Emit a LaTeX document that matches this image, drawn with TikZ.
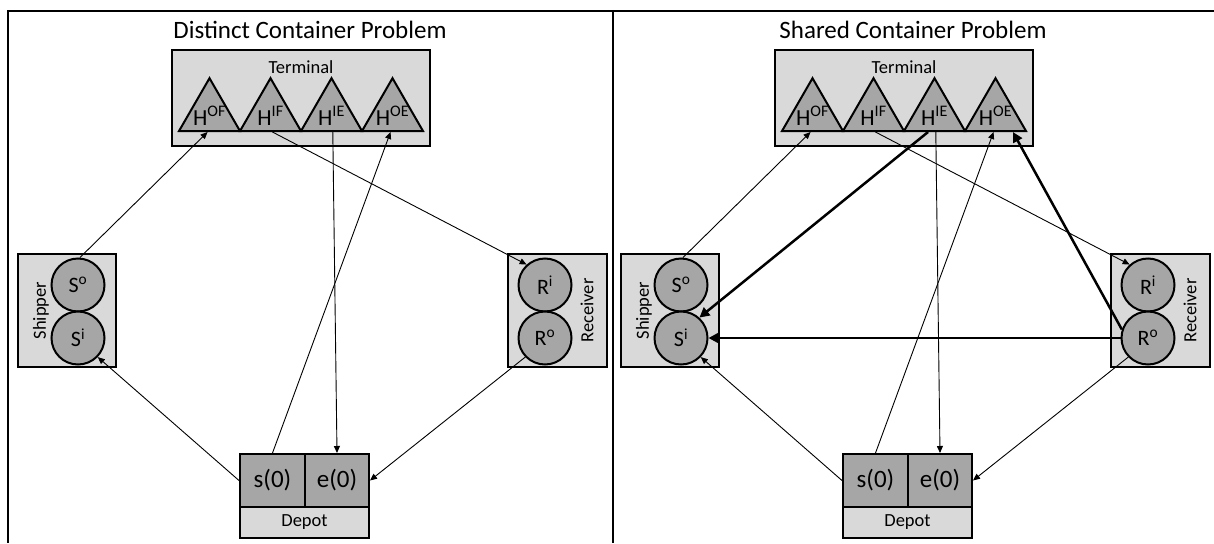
\documentclass[tikz,border=0pt]{standalone}
\usepackage{fontspec}
\setmainfont{Carlito}
\usetikzlibrary{arrows.meta,shapes.geometric,calc}
\definecolor{cplight}{HTML}{D9D9D9}
\definecolor{cpdark}{HTML}{A6A6A6}

\tikzset{
  area/.style={draw,line width=2pt,fill=cplight,inner sep=0},
  slot/.style={draw,line width=2pt,fill=cpdark,inner sep=0,font=\fontsize{25}{29}\selectfont},
  hill/.style={draw,line width=2pt,fill=cpdark,regular polygon,regular polygon sides=3,minimum size=70.4pt,inner sep=0},
  pool/.style={draw,line width=2pt,fill=cpdark,circle,minimum size=53pt,inner sep=0,font=\fontsize{22}{26}\selectfont},
  hlab/.style={inner sep=0,font=\fontsize{23}{27}\selectfont},
  tag/.style={inner sep=0,font=\fontsize{18.5}{22}\selectfont},
  flow/.style={line width=0.9pt,-{Triangle[length=7pt,width=6pt]}},
  bigflow/.style={line width=2.5pt,-{Triangle[length=10pt,width=10pt]}}
}

\begin{document}
\begin{tikzpicture}[x=1pt,y=-1pt]
  \useasboundingbox (0,0) rectangle (1214,543);
  % panel frame
  \draw[line width=2pt] (1214,11) -- (8,11) -- (8,543);
  \draw[line width=2pt] (613,11) -- (613,543);

  \foreach \p/\dx/\name in {d/0/Distinct,s/603/Shared}{
    \begin{scope}[xshift=\dx pt]
      \node[font=\fontsize{25}{29}\selectfont] (\p-title) at (310,30) {\name{} Container Problem};
      % terminal with its four stacks
      \node[area,minimum width=258pt,minimum height=96pt] (\p-term) at (301,98) {};
      \node[tag] (\p-term-t) at (301,67) {Terminal};
      \foreach \n/\s [count=\i from 0] in {hof/OF,hif/IF,hie/IE,hoe/OE}{
        \node[hill] (\p-\n) at (209.5+61*\i,113.4) {};
        \node[hlab] (\p-\n-t) at (209.5+61*\i,116) {H\textsuperscript{\s}};
      }
      % shipper
      \node[area,minimum width=98pt,minimum height=113pt] (\p-ship) at (67,310.5) {};
      \node[tag,rotate=90] (\p-ship-t) at (41,310.5) {Shipper};
      \node[pool] (\p-so) at (78,285) {S\textsuperscript{o}};
      \node[pool] (\p-si) at (78,338) {S\textsuperscript{i}};
      % receiver
      \node[area,minimum width=99pt,minimum height=113pt] (\p-recv) at (557.5,310.5) {};
      \node[tag,rotate=90] (\p-recv-t) at (587,310.5) {Receiver};
      \node[pool] (\p-ri) at (545,285) {R\textsuperscript{i}};
      \node[pool] (\p-ro) at (545,338) {R\textsuperscript{o}};
      % depot
      \node[slot,minimum width=65pt,minimum height=53pt] (\p-s0) at (272.5,480.5) {s(0)};
      \node[slot,minimum width=64pt,minimum height=53pt] (\p-e0) at (337,480.5) {e(0)};
      \node[area,tag,minimum width=129pt,minimum height=31pt] (\p-depot) at (304.5,522.5) {Depot};

      \draw[flow] (\p-so.86) -- ($(\p-hof.corner 2)!0.47!(\p-hof.corner 3)$);
      \draw[flow] ($(\p-hif.corner 2)!0.53!(\p-hif.corner 3)$) -- (\p-ri.132);
      \draw[flow] ($(\p-hie.corner 2)!0.52!(\p-hie.corner 3)$) -- (\p-e0.north);
      \draw[flow] (\p-s0.north) -- ($(\p-hoe.corner 2)!0.47!(\p-hoe.corner 3)$);
      \draw[flow] (\p-s0.west) -- (\p-si.-44);
      \draw[flow] (\p-ro.-136) -- (\p-e0.east);
    \end{scope}
  }

  % street-turn moves
  \draw[bigflow] ($(s-hie.corner 2)!0.4!(s-hie.corner 3)$) -- (s-si.48);
  \draw[bigflow] (s-ro.west) -- (s-si.east);
  \draw[bigflow] (s-ro.162) -- ($(s-hoe.corner 2)!0.77!(s-hoe.corner 3)$);
\end{tikzpicture}
\end{document}
